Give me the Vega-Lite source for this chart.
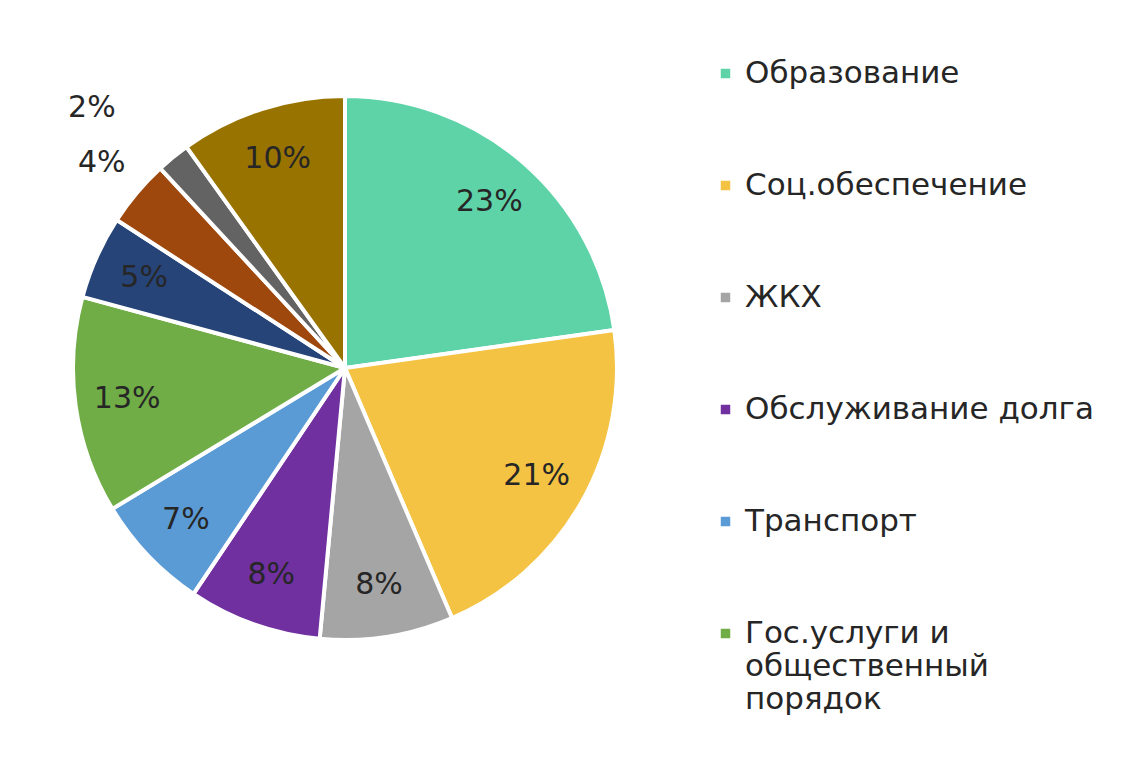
{
  "$schema": "https://vega.github.io/schema/vega-lite/v6.json",
  "description": "Структура расходов бюджета, круговая диаграмма",
  "width": 690,
  "height": 736,
  "padding": {"left": 0, "top": 0, "right": 444, "bottom": 34},
  "autosize": {"type": "none"},
  "background": "white",
  "view": {"stroke": null},
  "data": {
    "values": [
      {"idx": 1, "category": "Образование", "share": 0.23},
      {"idx": 2, "category": "Соц.обеспечение", "share": 0.21},
      {"idx": 3, "category": "ЖКХ", "share": 0.08},
      {"idx": 4, "category": "Обслуживание долга", "share": 0.08},
      {"idx": 5, "category": "Транспорт", "share": 0.07},
      {"idx": 6, "category": "Гос.услуги и общественный порядок", "share": 0.13},
      {"idx": 7, "category": "Здравоохранение", "share": 0.05},
      {"idx": 8, "category": "Культура", "share": 0.04},
      {"idx": 9, "category": "Физкультура и спорт", "share": 0.02},
      {"idx": 10, "category": "Прочее", "share": 0.10}
    ]
  },
  "encoding": {
    "theta": {"field": "share", "type": "quantitative", "stack": true},
    "order": {"field": "idx", "type": "quantitative"},
    "color": {
      "field": "category",
      "type": "nominal",
      "scale": {
        "domain": ["Образование", "Соц.обеспечение", "ЖКХ", "Обслуживание долга", "Транспорт", "Гос.услуги и общественный порядок", "Здравоохранение", "Культура", "Физкультура и спорт", "Прочее"],
        "range": ["#5ed3a8", "#f4c343", "#a5a5a5", "#7030a0", "#5b9bd5", "#70ad47", "#264478", "#9e480e", "#636363", "#997300"]
      },
      "legend": {
        "values": ["Образование", "Соц.обеспечение", "ЖКХ", "Обслуживание долга", "Транспорт", "Гос.услуги и общественный порядок"],
        "title": null,
        "orient": "none",
        "legendX": 710,
        "legendY": 58,
        "symbolType": "square",
        "symbolSize": 90,
        "symbolStrokeWidth": 0,
        "labelFont": "DejaVu Sans",
        "labelFontSize": 31,
        "labelColor": "#262626",
        "labelLimit": 500,
        "labelOffset": 4,
        "rowPadding": 80,
        "labelExpr": "datum.label == 'Гос.услуги и общественный порядок' ? ['Гос.услуги и', 'общественный', 'порядок'] : datum.label"
      }
    }
  },
  "layer": [
    {
      "mark": {"type": "arc", "outerRadius": 272, "stroke": "white", "strokeWidth": 4}
    },
    {
      "mark": {"type": "text", "font": "DejaVu Sans", "fontSize": 30, "radius": 220},
      "encoding": {
        "text": {"field": "share", "type": "quantitative", "format": ".0%"},
        "color": {"value": "#262626"},
        "opacity": {"condition": {"test": "datum.share < 0.05", "value": 0}, "value": 1}
      }
    },
    {
      "mark": {"type": "text", "font": "DejaVu Sans", "fontSize": 30, "radius": 318},
      "encoding": {
        "text": {"field": "share", "type": "quantitative", "format": ".0%"},
        "color": {"value": "#262626"},
        "opacity": {"condition": {"test": "datum.share == 0.04", "value": 1}, "value": 0}
      }
    },
    {
      "mark": {"type": "text", "font": "DejaVu Sans", "fontSize": 30, "radius": 364, "dx": -23, "dy": 22},
      "encoding": {
        "text": {"field": "share", "type": "quantitative", "format": ".0%"},
        "color": {"value": "#262626"},
        "opacity": {"condition": {"test": "datum.share == 0.02", "value": 1}, "value": 0}
      }
    }
  ]
}
